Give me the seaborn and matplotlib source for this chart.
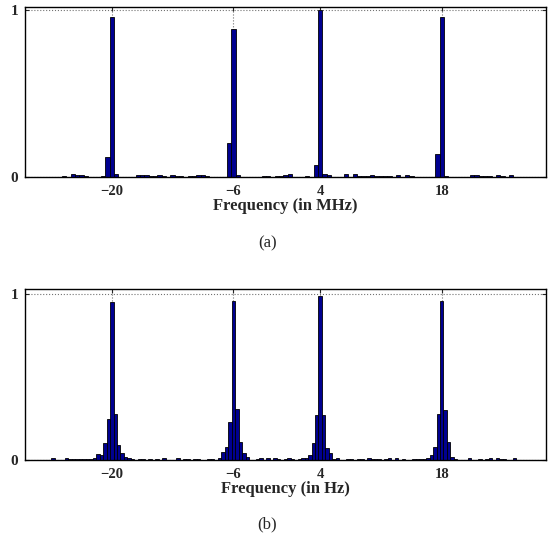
import numpy as np
import pandas as pd
import seaborn as sns
import matplotlib.pyplot as plt

# panel (a): MHz spectrum, bin width 0.5
mhz_freq = [-25.5, -24.5, -24.0, -23.5, -23.0, -21.0, -20.5, -20.0, -19.5,
            -17.0, -16.5, -16.0, -15.5, -15.0, -14.5, -14.0, -13.0, -12.5, -12.0,
            -11.0, -10.5, -10.0, -9.5, -9.0, -6.5, -6.0, -5.5, -2.5, -2.0,
            -1.0, -0.5, 0.0, 0.5, 2.5, 3.5, 4.0, 4.5, 5.0, 7.0, 8.0, 8.5, 9.0, 9.5,
            10.0, 10.5, 11.0, 11.5, 12.0, 13.0, 14.0, 14.5, 17.5, 18.0, 18.5,
            21.5, 22.0, 22.5, 23.0, 23.5, 24.5, 25.0, 26.0]
mhz_amp = [0.005, 0.018, 0.008, 0.008, 0.004, 0.003, 0.12, 0.96, 0.018,
           0.01, 0.01, 0.01, 0.006, 0.006, 0.008, 0.004, 0.01, 0.004, 0.004,
           0.004, 0.005, 0.01, 0.01, 0.003, 0.2, 0.89, 0.012, 0.004, 0.004,
           0.003, 0.004, 0.008, 0.015, 0.003, 0.072, 1.0, 0.015, 0.008, 0.015, 0.015, 0.004, 0.004, 0.005,
           0.01, 0.005, 0.004, 0.004, 0.003, 0.012, 0.01, 0.004, 0.135, 0.96, 0.003,
           0.008, 0.008, 0.004, 0.004, 0.005, 0.01, 0.004, 0.008]

# panel (b): Hz spectrum, bin width 0.4
hz_freq = [-26.8, -25.2, -24.8, -24.4, -24.0, -23.6, -23.2, -22.8, -22.4,
           -22.0, -21.6, -21.2, -20.8, -20.4, -20.0, -19.6, -19.2, -18.8, -18.4, -18.0,
           -17.6, -16.8, -16.4, -15.6, -14.8, -14.0, -12.4, -11.6, -11.2, -10.4, -10.0,
           -8.8, -8.4, -7.6, -7.2, -6.8, -6.4, -6.0, -5.6, -5.2, -4.8, -4.4,
           -3.2, -2.8, -2.0, -1.2, -0.8, 0.0, 0.4, 0.8, 1.6, 2.0,
           2.4, 2.8, 3.2, 3.6, 4.0, 4.4, 4.8, 5.2, 5.6, 6.0,
           7.2, 7.6, 8.4, 8.8, 9.6, 10.0, 10.4, 10.8, 11.6, 12.0, 12.8, 13.6, 14.8, 15.2,
           15.6, 16.0, 16.4, 16.8, 17.2, 17.6, 18.0, 18.4, 18.8, 19.2, 19.6,
           21.2, 22.4, 23.2, 23.6, 24.4, 24.8, 25.2, 26.4]
hz_amp = [0.012, 0.01, 0.006, 0.006, 0.005, 0.004, 0.005, 0.004, 0.008,
          0.01, 0.035, 0.03, 0.1, 0.25, 0.95, 0.28, 0.09, 0.04, 0.02, 0.01,
          0.005, 0.005, 0.004, 0.005, 0.005, 0.01, 0.01, 0.005, 0.004, 0.008, 0.005,
          0.005, 0.004, 0.015, 0.05, 0.08, 0.23, 0.96, 0.31, 0.11, 0.04, 0.02,
          0.005, 0.01, 0.01, 0.015, 0.008, 0.008, 0.01, 0.005, 0.008, 0.01,
          0.015, 0.03, 0.1, 0.27, 0.99, 0.27, 0.07, 0.04, 0.005, 0.015,
          0.005, 0.004, 0.008, 0.005, 0.01, 0.006, 0.008, 0.008, 0.008, 0.01, 0.01, 0.005, 0.005, 0.004,
          0.008, 0.008, 0.01, 0.03, 0.08, 0.28, 0.96, 0.3, 0.11, 0.02, 0.005,
          0.01, 0.005, 0.008, 0.01, 0.01, 0.005, 0.004, 0.01]

xticks = [-20, -6, 4, 18]

sns.set_style('ticks')
plt.rcParams['font.family'] = ['Liberation Serif', 'DejaVu Serif']
plt.rcParams['axes.unicode_minus'] = True

fig = plt.figure(figsize=(5.53, 5.5), dpi=100)
ax1 = fig.add_axes([0.0452, 0.679, 0.942, 0.308])
ax2 = fig.add_axes([0.0452, 0.1636, 0.942, 0.311])

panels = [
    (ax1, mhz_freq, mhz_amp, 0.5, 1.02, 'Frequency (in MHz)'),
    (ax2, hz_freq, hz_amp, 0.4, 1.03, 'Frequency (in Hz)'),
]

for ax, f, a, w, ytop, lab in panels:
    df = pd.DataFrame({'freq': f, 'amp': a})
    sns.histplot(data=df, x='freq', weights='amp', binwidth=w,
                 binrange=(-30 - w / 2, 30 + w / 2), ax=ax,
                 color='#000090', edgecolor='black', linewidth=0.6, alpha=1)
    ax.set_xlim(-30, 30)
    ax.set_ylim(0, ytop)
    ax.set_xticks(xticks)
    ax.set_xticklabels([str(t).replace('-', '\u2212') for t in xticks],
                       fontweight='bold', fontsize=10.5)
    ax.set_yticks([0, 1])
    ax.set_yticklabels(['0', '1'], fontweight='bold', fontsize=11)
    ax.set_axisbelow(True)
    ax.grid(True, linestyle=':', color='0.45', linewidth=0.8)
    ax.tick_params(direction='in', top=True, right=True, length=3, width=0.8)
    ax.tick_params(axis='x', pad=6)
    ax.tick_params(axis='y', pad=5)
    ax.set_ylabel('')
    ax.set_xlabel(lab, fontweight='bold', fontsize=12, labelpad=0)
    for s in ax.spines.values():
        s.set_linewidth(1.0)
        s.set_color('black')

fig.text(0.483, 1 - 243 / 550, '(a)', ha='center', va='center', fontsize=12)
fig.text(0.483, 1 - 524 / 550, '(b)', ha='center', va='center', fontsize=12)

fig.savefig('out.png', dpi=100)
